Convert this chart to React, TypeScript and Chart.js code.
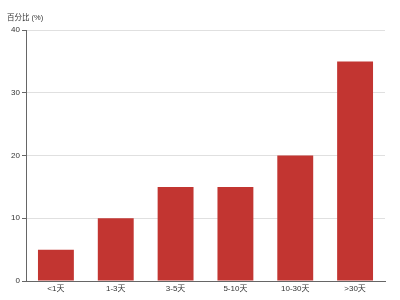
import React, { useEffect, useRef } from "react";
import { Chart, registerables } from "chart.js";

Chart.register(...registerables);

const categories = ["<1天", "1-3天", "3-5天", "5-10天", "10-30天", ">30天"];
const values = [5, 10, 15, 15, 20, 35];
const yAxisName = "百分比 (%)";

const FONT = '"Liberation Sans", "Noto Sans CJK SC", sans-serif';

const axisNamePlugin = {
  id: "axisName",
  afterDraw(chart: any) {
    const { ctx, chartArea } = chart;
    ctx.save();
    ctx.font = `7.5px ${FONT}`;
    ctx.fillStyle = "#333";
    ctx.textAlign = "center";
    ctx.textBaseline = "middle";
    ctx.fillText(yAxisName, chartArea.left - 1, 18);
    ctx.restore();
  },
};

export default function App() {
  const ref = useRef<HTMLCanvasElement>(null);
  useEffect(() => {
    if (!ref.current) return;
    const chart = new Chart(ref.current, {
      type: "bar",
      data: {
        labels: categories,
        datasets: [
          {
            data: values,
            backgroundColor: "#c23531",
            borderWidth: 0,
            categoryPercentage: 0.6,
            barPercentage: 1,
          },
        ],
      },
      options: {
        responsive: false,
        animation: false,
        devicePixelRatio: 1,
        layout: { padding: { top: 30, right: 15, left: 0, bottom: 0 } },
        plugins: { legend: { display: false }, tooltip: { enabled: false }, title: { display: false } },
        scales: {
          x: {
            grid: { display: false, drawTicks: false, tickLength: 0 },
            border: { color: "#666", width: 1 },
            ticks: { color: "#333", font: { size: 8, family: FONT }, padding: 3, maxRotation: 0 },
            afterFit(scale: any) {
              scale.height = 19;
            },
          },
          y: {
            min: 0,
            max: 40,
            ticks: { stepSize: 10, color: "#333", font: { size: 8, family: FONT }, padding: 2 },
            grid: { color: "#e0e0e0", tickLength: 4, tickColor: "#666" },
            border: { color: "#666", width: 1 },
            afterFit(scale: any) {
              scale.width = 26;
            },
          },
        },
      },
      plugins: [axisNamePlugin],
    });
    return () => chart.destroy();
  }, []);
  return (
    <div style={{ position: "absolute", left: 0, top: 0, width: 400, height: 300, background: "#fff" }}>
      <canvas ref={ref} width={400} height={300} style={{ width: 400, height: 300 }} />
    </div>
  );
}
